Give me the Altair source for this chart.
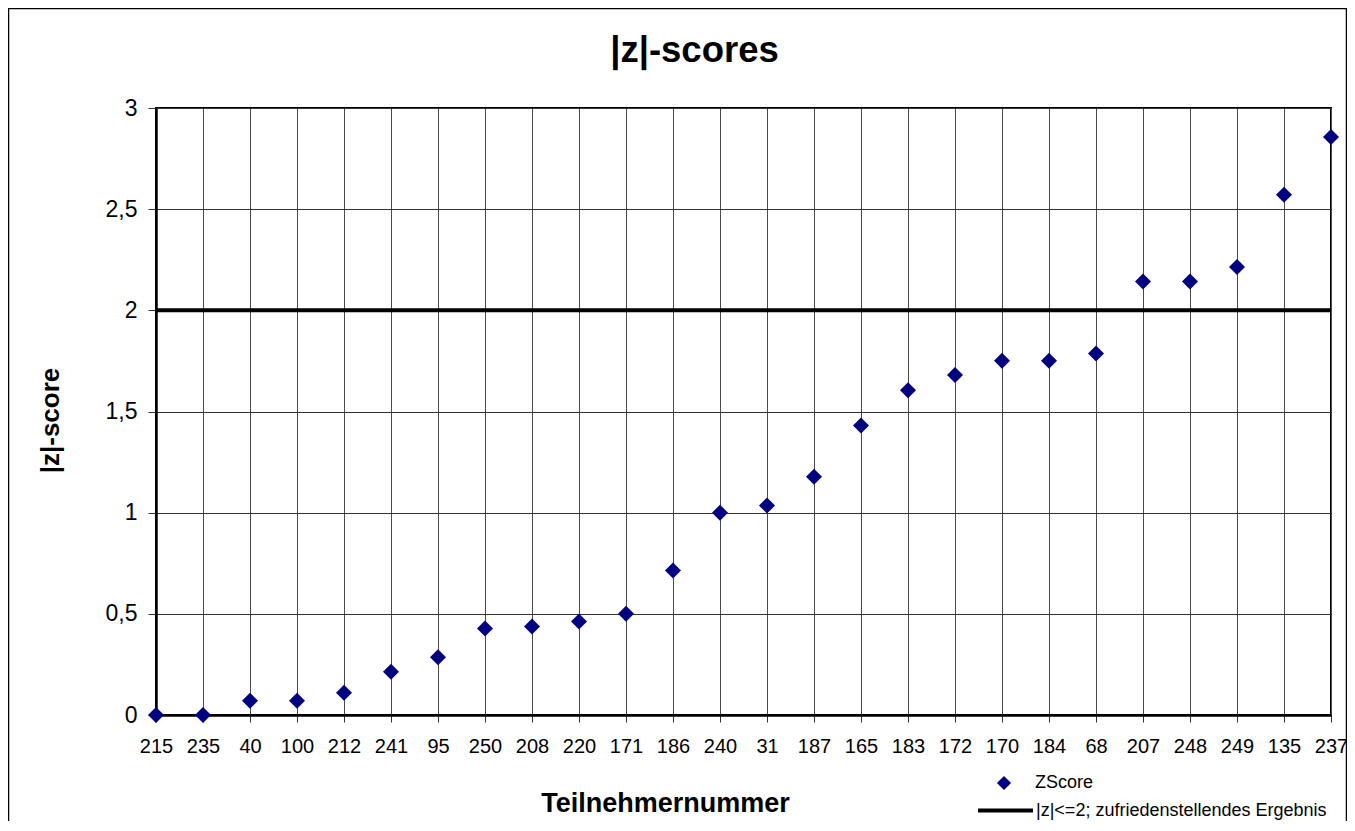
import altair as alt
import pandas as pd

# ---- data ----
ids = ["215", "235", "40", "100", "212", "241", "95", "250", "208", "220",
       "171", "186", "240", "31", "187", "165", "183", "172", "170", "184",
       "68", "207", "248", "249", "135", "237"]
zscores = [0.0, 0.0, 0.07, 0.07, 0.11, 0.214, 0.286, 0.427, 0.437, 0.462,
           0.5, 0.714, 1.0, 1.035, 1.178, 1.431, 1.605, 1.68, 1.751, 1.751,
           1.787, 2.142, 2.142, 2.214, 2.571, 2.857]
series_name = "ZScore"
limit_values = [2]
limit_labels = ["|z|<=2; zufriedenstellendes Ergebnis"]
y_ticks = [0, 0.5, 1, 1.5, 2, 2.5, 3]

df = pd.DataFrame({"Teilnehmer": ids, "z": zscores, "series": series_name})
limit_df = pd.DataFrame({"z": limit_values, "label": limit_labels})
frame_df = pd.DataFrame({"f": [0]})

W, H = 1175, 607
FONT = "Liberation Sans"

x_enc = alt.X(
    "Teilnehmer:N", sort=ids,
    scale=alt.Scale(type="point", padding=0),
    axis=alt.Axis(
        title="Teilnehmernummer", labelAngle=0, grid=True,
        gridColor="#4a4a4a", gridWidth=1,
        domainColor="black", domainWidth=2.5,
        tickColor="#333333", tickSize=7, tickWidth=1,
        labelFont=FONT, labelFontSize=20, labelColor="black", labelPadding=14,
        labelOverlap=False,
        titleFont=FONT, titleFontSize=27, titleFontWeight="bold", titleColor="black",
        titleX=509, titleY=96, titleAlign="center", titleBaseline="alphabetic",
    ),
)
y_enc = alt.Y(
    "z:Q",
    scale=alt.Scale(domain=[0, 3], nice=False, zero=True),
    axis=alt.Axis(
        title="|z|-score", values=y_ticks,
        labelExpr="replace(toString(datum.value), '.', ',')",
        grid=True, gridColor="#333333", gridWidth=1,
        domainColor="black", domainWidth=2.5,
        tickColor="#333333", tickSize=8, tickWidth=1,
        labelFont=FONT, labelFontSize=23, labelColor="black", labelPadding=11,
        titleFont=FONT, titleFontSize=26, titleFontWeight="bold", titleColor="black",
        titleX=-106, titleY=312, titleAngle=-90,
        titleAlign="center", titleBaseline="middle",
    ),
)

frame = alt.Chart(frame_df).mark_rect(
    fillOpacity=0, stroke="black", strokeWidth=1.5, clip=False
).encode(
    x=alt.value(-147.5), x2=alt.value(1190.5),
    y=alt.value(-99.5), y2=alt.value(760),
)

rule = alt.Chart(limit_df).mark_rule(strokeWidth=4).encode(
    y=y_enc,
    stroke=alt.Stroke(
        "label:N",
        scale=alt.Scale(domain=limit_labels, range=["black"]),
        legend=alt.Legend(
            title=None, orient="none", legendX=820, legendY=673, padding=0,
            symbolType="stroke", symbolSize=3025, symbolStrokeWidth=4,
            labelFont=FONT, labelFontSize=18, labelColor="black", labelOffset=1,
            labelLimit=0,
        ),
    ),
)

points = alt.Chart(df).mark_point(
    shape="diamond", filled=True, size=256, opacity=1, clip=False
).encode(
    x=x_enc,
    y=y_enc,
    fill=alt.Fill(
        "series:N",
        scale=alt.Scale(domain=[series_name], range=["#000080"]),
        legend=alt.Legend(
            title=None, orient="none", legendX=839, legendY=666, padding=0,
            symbolType="diamond", symbolSize=200, symbolStrokeWidth=0,
            labelFont=FONT, labelFontSize=18, labelColor="black", labelOffset=22,
            labelLimit=0,
        ),
    ),
)

chart = alt.layer(frame, rule, points).properties(
    width=W, height=H,
    title=alt.TitleParams(
        "|z|-scores", font=FONT, fontSize=36.5, fontWeight="bold", color="black",
        anchor="middle", frame="group", baseline="alphabetic",
        offset=0, dx=-49, dy=91,
    ),
    autosize=alt.AutoSizeParams(type="none"),
    padding={"left": 148, "top": 100, "right": 16, "bottom": 106},
    background="white",
).configure_view(stroke="black", strokeWidth=2)

chart.save("out.html", embed_options={"renderer": "svg", "actions": False})
